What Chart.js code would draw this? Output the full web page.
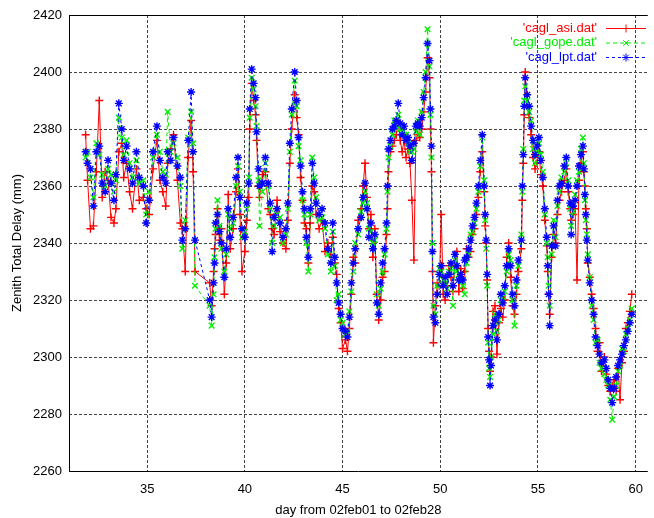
<!DOCTYPE html>
<html>
<head>
<meta charset="utf-8">
<script src="https://cdn.jsdelivr.net/npm/chart.js@4.4.0/dist/chart.umd.min.js"></script>
<style>
html, body { margin: 0; padding: 0; background: #fff; overflow: hidden; }
#wrap { width: 654px; height: 518px; position: relative; }
</style>
</head>
<body>
<div id="wrap"><canvas id="ztd"></canvas></div>
<script>
// day of year (shared sampling for the three stations)
const days = [
  31.85,31.95,32.1,32.25,32.4,32.55,32.7,32.85,33.0,33.15,
  33.3,33.4,33.55,33.7,33.8,33.95,34.1,34.25,34.45,34.6,
  34.8,34.95,35.1,35.3,35.5,35.65,35.8,35.95,36.05,36.2,
  36.35,36.55,36.7,36.8,36.95,37.1,37.25,37.35,37.45,38.2,
  38.3,38.4,38.45,38.5,38.6,38.7,38.8,38.95,39.05,39.15,
  39.25,39.4,39.55,39.65,39.75,39.85,40.0,40.1,40.2,40.25,
  40.35,40.45,40.55,40.6,40.7,40.75,40.9,41.05,41.2,41.3,
  41.4,41.5,41.65,41.8,41.95,42.1,42.2,42.3,42.4,42.55,
  42.65,42.75,42.85,42.95,43.05,43.15,43.25,43.35,43.45,43.55,
  43.65,43.8,43.95,44.1,44.25,44.4,44.5,44.6,44.7,44.8,
  44.9,45.0,45.15,45.25,45.35,45.45,45.55,45.65,45.8,45.95,
  46.05,46.15,46.25,46.35,46.45,46.55,46.65,46.75,46.85,46.95,
  47.05,47.15,47.25,47.3,47.35,47.45,47.55,47.65,47.75,47.85,
  47.95,48.05,48.15,48.25,48.35,48.45,48.55,48.65,48.75,48.85,
  48.95,49.05,49.15,49.25,49.35,49.45,49.5,49.55,49.6,49.65,
  49.75,49.85,49.95,50.05,50.15,50.25,50.35,50.45,50.55,50.65,
  50.75,50.85,50.95,51.05,51.15,51.25,51.35,51.45,51.55,51.65,
  51.75,51.85,51.95,52.05,52.15,52.25,52.3,52.35,52.4,52.45,
  52.5,52.55,52.6,52.7,52.8,52.9,53.0,53.1,53.2,53.3,
  53.4,53.5,53.6,53.7,53.8,53.9,54.0,54.15,54.2,54.25,
  54.3,54.35,54.45,54.55,54.65,54.75,54.85,54.95,55.05,55.15,
  55.25,55.35,55.45,55.5,55.55,55.6,55.7,55.8,55.9,56.0,
  56.1,56.2,56.35,56.45,56.55,56.65,56.7,56.8,56.9,57.0,
  57.1,57.2,57.3,57.35,57.4,57.45,57.5,57.55,57.65,57.75,
  57.85,57.95,58.05,58.15,58.25,58.4,58.5,58.6,58.7,58.8,
  58.9,59.0,59.1,59.2,59.3,59.4,59.5,59.6,59.7,59.8
];

// zenith total delay, mm
const asi = [
  2378,2362,2345,2346,2365,2390,2356,2365,2362,2349,
  2347,2352,2372,2375,2363,2368,2358,2352,2366,2355,
  2356,2352,2350,2366,2376,2362,2358,2353,2368,2373,
  2378,2362,2347,2345,2330,2370,2383,2365,2330,2326,
  2318,2330,2338,2343,2352,2341,2345,2322,2333,2357,
  2338,2345,2358,2366,2350,2330,2337,2348,2356,2380,
  2396,2390,2385,2376,2360,2356,2364,2365,2352,2350,
  2345,2343,2355,2344,2340,2338,2348,2368,2380,2392,
  2384,2378,2363,2355,2347,2345,2333,2347,2360,2358,
  2350,2345,2348,2337,2340,2336,2342,2333,2329,2317,
  2312,2303,2306,2302,2310,2322,2335,2333,2348,2352,
  2360,2368,2356,2345,2350,2335,2345,2322,2313,2320,
  2328,2330,2343,2352,2365,2372,2374,2376,2378,2382,
  2376,2372,2376,2370,2373,2368,2355,2334,2376,2378,
  2377,2380,2386,2393,2405,2398,2380,2365,2330,2305,
  2318,2326,2325,2350,2322,2320,2325,2332,2328,2323,
  2332,2337,2323,2331,2324,2330,2338,2335,2337,2343,
  2345,2350,2356,2365,2372,2358,2346,2340,2327,2310,
  2302,2295,2300,2316,2318,2301,2312,2317,2314,2320,
  2335,2340,2328,2318,2315,2322,2330,2338,2355,2368,
  2385,2400,2388,2384,2378,2370,2366,2368,2372,2364,
  2360,2348,2339,2330,2322,2315,2335,2343,2340,2350,
  2355,2358,2362,2366,2358,2352,2348,2350,2352,2327,
  2362,2368,2372,2365,2360,2352,2345,2333,2328,2322,
  2317,2310,2302,2305,2295,2300,2294,2290,2288,2290,
  2292,2288,2296,2285,2298,2302,2310,2312,2316,2322
];

const gope = [
  2370,2372,2363,2356,2375,2371,2364,2360,2366,2364,
  2358,2362,2384,2377,2371,2376,2368,2363,2369,2361,
  2362,2350,2358,2370,2378,2372,2365,2364,2386,2372,
  2375,2370,2360,2338,2348,2377,2386,2375,2325,2318,
  2311,2322,2335,2345,2355,2346,2338,2330,2336,2350,
  2345,2347,2360,2367,2358,2342,2344,2352,2363,2384,
  2398,2394,2388,2381,2362,2346,2358,2368,2360,2352,
  2340,2346,2350,2349,2340,2343,2352,2372,2385,2397,
  2388,2374,2369,2355,2350,2340,2330,2350,2370,2363,
  2356,2348,2349,2345,2336,2330,2344,2332,2320,2322,
  2313,2312,2308,2309,2316,2323,2330,2340,2343,2351,
  2354,2358,2354,2345,2344,2340,2341,2322,2318,2324,
  2330,2336,2345,2358,2370,2374,2378,2383,2380,2385,
  2380,2380,2378,2378,2375,2372,2372,2373,2379,2383,
  2378,2386,2393,2400,2415,2402,2385,2370,2340,2318,
  2315,2325,2331,2330,2327,2326,2324,2330,2331,2318,
  2334,2330,2329,2327,2325,2322,2333,2336,2343,2344,
  2347,2352,2358,2367,2377,2362,2348,2338,2325,2305,
  2296,2293,2300,2308,2315,2309,2313,2320,2321,2323,
  2330,2336,2334,2320,2311,2325,2332,2343,2358,2373,
  2390,2395,2390,2386,2383,2373,2368,2372,2375,2371,
  2365,2350,2340,2335,2325,2318,2336,2348,2342,2353,
  2358,2363,2365,2368,2362,2352,2346,2351,2357,2362,
  2365,2373,2377,2368,2355,2348,2343,2336,2328,2318,
  2313,2305,2306,2298,2296,2294,2292,2290,2285,2278,
  2286,2290,2295,2297,2303,2302,2308,2310,2313,2317
];

const lpt = [
  2372,2368,2366,2353,2372,2374,2361,2358,2369,2361,
  2355,2364,2389,2380,2369,2374,2366,2361,2372,2363,
  2360,2347,2355,2372,2381,2369,2363,2361,2372,2369,
  2377,2367,2363,2341,2345,2376,2393,2372,2341,2320,
  2314,2326,2333,2347,2350,2344,2340,2328,2338,2352,
  2342,2349,2363,2370,2356,2345,2342,2354,2361,2387,
  2401,2396,2391,2379,2366,2360,2361,2370,2361,2354,
  2337,2349,2352,2347,2342,2345,2354,2375,2387,2400,
  2390,2377,2367,2358,2352,2342,2335,2352,2368,2361,
  2354,2350,2352,2347,2338,2333,2347,2335,2326,2319,
  2315,2310,2309,2307,2314,2326,2333,2338,2345,2349,
  2356,2361,2352,2342,2347,2338,2343,2319,2315,2326,
  2333,2338,2347,2360,2373,2376,2380,2381,2383,2389,
  2382,2378,2381,2376,2377,2374,2369,2375,2381,2382,
  2381,2384,2391,2398,2410,2404,2387,2374,2337,2314,
  2312,2322,2329,2332,2325,2328,2322,2329,2333,2325,
  2336,2332,2327,2329,2327,2334,2335,2338,2341,2346,
  2349,2354,2360,2369,2378,2360,2350,2341,2329,2307,
  2299,2290,2297,2311,2313,2306,2315,2322,2319,2325,
  2332,2338,2332,2322,2318,2327,2334,2341,2360,2371,
  2388,2398,2392,2388,2381,2376,2371,2374,2377,2369,
  2363,2352,2342,2332,2322,2311,2339,2346,2339,2355,
  2360,2361,2367,2370,2360,2354,2343,2353,2355,2360,
  2367,2371,2374,2366,2357,2350,2341,2334,2326,2320,
  2315,2307,2304,2301,2298,2299,2296,2292,2289,2284,
  2289,2293,2297,2299,2301,2304,2306,2309,2312,2315
];

const seriesNames = ["'cagl_asi.dat'", "'cagl_gope.dat'", "'cagl_lpt.dat'"];
const xTicks = [35, 40, 45, 50, 55, 60];

const FONT = { family: '"Liberation Sans", Helvetica, Arial, sans-serif', size: 13 };

function toPoints(vals) {
  return vals.map((v, i) => ({ x: days[i], y: v }));
}

const styles = [
  { color: '#ff0000', point: 'cross', dash: [] },
  { color: '#00ee00', point: 'crossRot', dash: [4, 3] },
  { color: '#0000ff', point: 'star', dash: [3, 3] }
];

// gnuplot style frame + key in the top right corner
const gnuKey = {
  id: 'gnuKey',
  beforeDatasetsDraw(chart) {
    const { ctx, chartArea: a } = chart;
    ctx.save();
    ctx.strokeStyle = '#000';
    ctx.lineWidth = 1;
    ctx.beginPath();
    ctx.moveTo(a.left + 0.5, a.top + 0.5);
    ctx.lineTo(a.right, a.top + 0.5);
    ctx.moveTo(a.left + 0.5, a.top);
    ctx.lineTo(a.left + 0.5, a.bottom + 0.5);
    ctx.lineTo(a.right, a.bottom + 0.5);
    ctx.stroke();
    ctx.restore();
  },
  afterDatasetsDraw(chart) {
    const ctx = chart.ctx;
    ctx.save();
    ctx.font = FONT.size + 'px ' + FONT.family;
    ctx.textAlign = 'right';
    ctx.textBaseline = 'middle';
    seriesNames.forEach((name, i) => {
      const y = 28 + i * 14.5;
      const st = styles[i];
      ctx.fillStyle = st.color;
      ctx.fillText(name, 597, y);
      ctx.strokeStyle = st.color;
      ctx.lineWidth = 1;
      ctx.setLineDash(st.dash);
      ctx.beginPath();
      ctx.moveTo(606, y + 0.5);
      ctx.lineTo(646, y + 0.5);
      ctx.stroke();
      ctx.setLineDash([]);
      Chart.helpers.drawPoint(ctx, { pointStyle: st.point, radius: 4, borderWidth: 1.4, rotation: 0 }, 626, y + 0.5);
    });
    ctx.restore();
  }
};

const datasets = [asi, gope, lpt].map((vals, i) => ({
  label: seriesNames[i],
  data: toPoints(vals),
  borderColor: styles[i].color,
  backgroundColor: styles[i].color,
  pointBorderColor: styles[i].color,
  pointStyle: styles[i].point,
  pointRadius: 4,
  pointBorderWidth: 1.4,
  borderWidth: 1,
  borderDash: styles[i].dash,
  tension: 0,
  order: 3 - i
}));

new Chart(document.getElementById('ztd'), {
  type: 'line',
  data: { datasets: datasets },
  options: {
    responsive: true,
    maintainAspectRatio: false,
    animation: false,
    devicePixelRatio: 1,
    layout: { padding: { top: 15, left: 0, right: 0, bottom: 0 } },
    plugins: { legend: { display: false }, tooltip: { enabled: false } },
    scales: {
      x: {
        type: 'linear',
        min: 31,
        max: 60.62,
        afterBuildTicks: s => { s.ticks = xTicks.map(v => ({ value: v })); },
        afterFit: s => { s.height = 47; },
        ticks: { font: FONT, color: '#000', padding: 11, maxRotation: 0, autoSkip: false, callback: v => String(v) },
        grid: { color: '#444', lineWidth: 1, drawTicks: false },
        border: { display: false, dash: [3, 2] },
        title: { display: true, text: 'day from 02feb01 to 02feb28', font: FONT, color: '#000', padding: { top: 2, bottom: 0 } }
      },
      y: {
        min: 2260,
        max: 2420,
        afterFit: s => { s.width = 69; },
        ticks: { stepSize: 20, font: FONT, color: '#000', padding: 7, callback: v => String(v) },
        grid: { color: '#444', lineWidth: 1, drawTicks: false },
        border: { display: false, dash: [3, 2] },
        title: { display: true, text: 'Zenith Total Delay (mm)', font: FONT, color: '#000', padding: { top: 10, bottom: 0 } }
      }
    }
  },
  plugins: [gnuKey]
});
</script>
</body>
</html>
